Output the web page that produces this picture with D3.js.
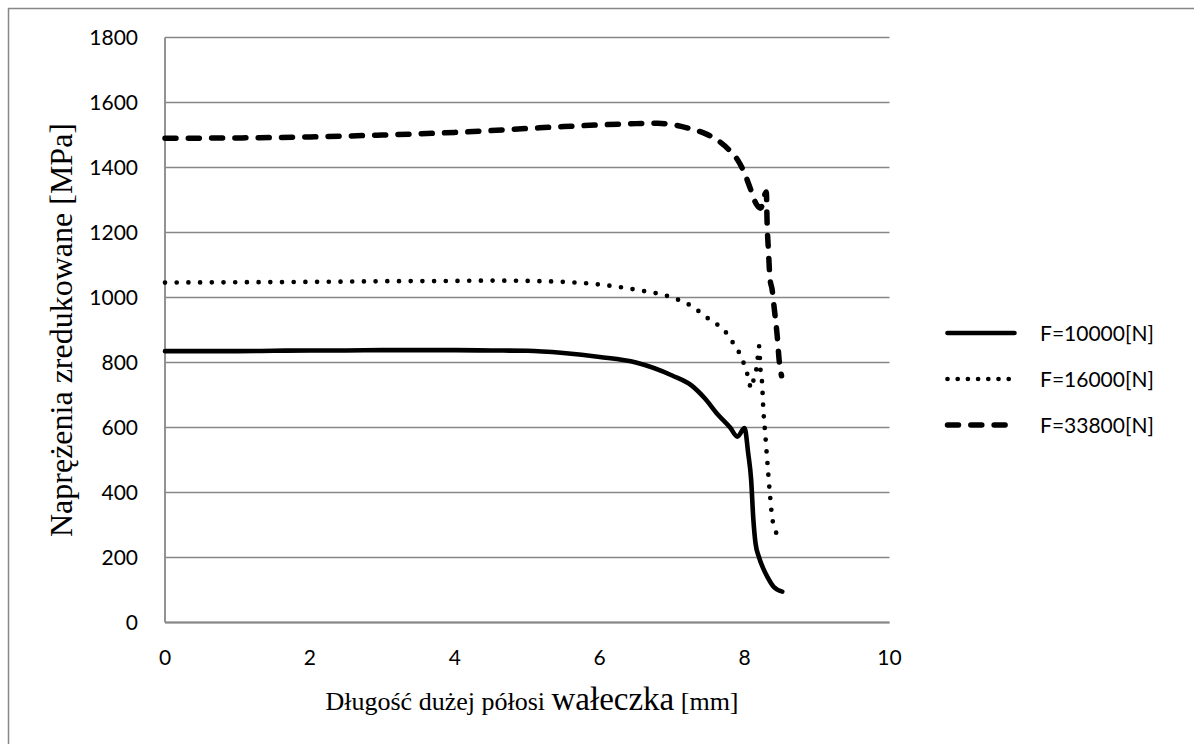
<!DOCTYPE html>
<html>
<head>
<meta charset="utf-8">
<script src="https://cdn.jsdelivr.net/npm/d3@7"></script>
<style>
  html, body { margin: 0; padding: 0; background: #fff; }
  svg { display: block; }
</style>
</head>
<body>
<svg id="chart" width="1194" height="744"></svg>
<script>
// ---- data ----
const seriesNames = ["F=10000[N]", "F=16000[N]", "F=33800[N]"];

const x10000 = [0, 0.5, 1, 1.5, 2, 2.5, 3, 3.5, 4, 4.5, 5, 5.5, 6, 6.5, 7, 7.27, 7.45, 7.63, 7.8, 7.9, 8.0, 8.05, 8.09, 8.12, 8.15, 8.2, 8.26, 8.32, 8.4, 8.52];
const y10000 = [835, 835, 835, 836, 837, 837, 838, 838, 838, 837, 836, 829, 817, 800, 760, 729, 690, 640, 600, 572, 598, 520, 440, 320, 245, 200, 165, 138, 110, 95];

const x16000 = [0, 1, 2, 3, 4, 4.5, 5, 5.5, 6, 6.5, 7.0, 7.25, 7.5, 7.65, 7.77, 7.86, 7.94, 8.0, 8.05, 8.09, 8.13, 8.17, 8.2, 8.22, 8.24, 8.26, 8.28, 8.31, 8.35, 8.38, 8.42, 8.48];
const y16000 = [1046, 1047, 1048, 1050, 1051, 1052, 1051, 1048, 1040, 1024, 1000, 976, 935, 912, 885, 853, 824, 790, 755, 720, 753, 790, 850, 776, 741, 650, 594, 506, 394, 324, 288, 249];

const x33800 = [0, 1, 2, 3, 4, 5, 5.5, 6, 6.5, 6.8, 7.0, 7.27, 7.45, 7.6, 7.79, 7.91, 8.0, 8.07, 8.16, 8.22, 8.3, 8.31, 8.33, 8.35, 8.38, 8.41, 8.45, 8.48, 8.51];
const y33800 = [1490, 1491, 1494, 1500, 1508, 1520, 1526, 1531, 1535, 1536, 1532, 1518, 1505, 1488, 1453, 1421, 1382, 1341, 1288, 1275, 1325, 1235, 1141, 1059, 1024, 965, 882, 800, 759];

const xTicks = [0, 2, 4, 6, 8, 10];
const yTicks = [0, 200, 400, 600, 800, 1000, 1200, 1400, 1600, 1800];

const xTitleParts = ["Długość dużej półosi ", "wałeczka", " [mm]"];
const yTitle = "Naprężenia zredukowane [MPa]";

// ---- layout ----
const svg = d3.select("#chart");
const L = 165, R = 889.5, T = 37.5, B = 622.5;
const x = d3.scaleLinear().domain([0, 10]).range([L, R]);
const y = d3.scaleLinear().domain([0, 1800]).range([B, T]);
const gridColor = "#878787";
const sans = "Lato, 'Open Sans', sans-serif";
const serif = "'Liberation Serif', 'Times New Roman', serif";

// outer frame (right and bottom edges fall outside the picture)
svg.append("rect")
  .attr("x", 8.5).attr("y", 8.5).attr("width", 1300).attr("height", 900)
  .attr("fill", "none").attr("stroke", gridColor).attr("stroke-width", 1.5);

// gridlines
svg.append("g").selectAll("line").data(yTicks).join("line")
  .attr("x1", L).attr("x2", R)
  .attr("y1", d => y(d)).attr("y2", d => y(d))
  .attr("stroke", gridColor).attr("stroke-width", 1.6);

// left axis line
svg.append("line").attr("x1", L).attr("x2", L).attr("y1", T).attr("y2", B)
  .attr("stroke", gridColor).attr("stroke-width", 1.8);
svg.append("line").attr("x1", L).attr("x2", R).attr("y1", B).attr("y2", B)
  .attr("stroke", gridColor).attr("stroke-width", 1.8);

// y tick labels
svg.append("g").selectAll("text").data(yTicks).join("text")
  .attr("x", 138).attr("y", d => y(d) + 7.5)
  .attr("text-anchor", "end")
  .attr("font-family", sans).attr("font-size", 21).attr("fill", "#000")
  .text(d => d);

// x tick labels
svg.append("g").selectAll("text").data(xTicks).join("text")
  .attr("x", d => x(d)).attr("y", 665)
  .attr("text-anchor", "middle")
  .attr("font-family", sans).attr("font-size", 21).attr("fill", "#000")
  .text(d => d);

// axis titles
svg.append("text")
  .attr("transform", "translate(72,330) rotate(-90)")
  .attr("text-anchor", "middle")
  .attr("font-family", serif).attr("font-size", 32).attr("fill", "#000")
  .text(yTitle);

const xt = svg.append("text")
  .attr("x", 532).attr("y", 710)
  .attr("text-anchor", "middle")
  .attr("font-family", serif).attr("fill", "#000");
xt.append("tspan").attr("font-size", 26).text(xTitleParts[0]);
xt.append("tspan").attr("font-size", 33).text(xTitleParts[1]);
xt.append("tspan").attr("font-size", 26).text(xTitleParts[2]);

// series
const styles = [
  { width: 4.6, dash: null, cap: "round" },
  { width: 4.7, dash: "0 11.7", cap: "round" },
  { width: 5.5, dash: "11 12.3", cap: "round" }
];
const seriesData = [
  d3.zip(x10000, y10000),
  d3.zip(x16000, y16000),
  d3.zip(x33800, y33800)
];
const line = d3.line().x(d => x(d[0])).y(d => y(d[1])).curve(d3.curveMonotoneX);

svg.append("g").selectAll("path").data(seriesData).join("path")
  .attr("d", line)
  .attr("fill", "none").attr("stroke", "#000")
  .attr("stroke-width", (d, i) => styles[i].width)
  .attr("stroke-dasharray", (d, i) => styles[i].dash)
  .attr("stroke-linecap", (d, i) => styles[i].cap)
  .attr("stroke-linejoin", "round");

// legend
const legendY = [333, 379, 425];
const legendDash = [null, "0 10.2", "11 12.3"];
const lg = svg.append("g").selectAll("g").data(seriesNames).join("g");
lg.append("line")
  .attr("x1", 947.5).attr("x2", 1014.5)
  .attr("y1", (d, i) => legendY[i]).attr("y2", (d, i) => legendY[i])
  .attr("stroke", "#000")
  .attr("stroke-width", (d, i) => styles[i].width)
  .attr("stroke-dasharray", (d, i) => legendDash[i])
  .attr("stroke-linecap", "round");
lg.append("text")
  .attr("x", 1040).attr("y", (d, i) => legendY[i] + 7.5)
  .attr("font-family", sans).attr("font-size", 21).attr("fill", "#000")
  .text(d => d);
</script>
</body>
</html>
